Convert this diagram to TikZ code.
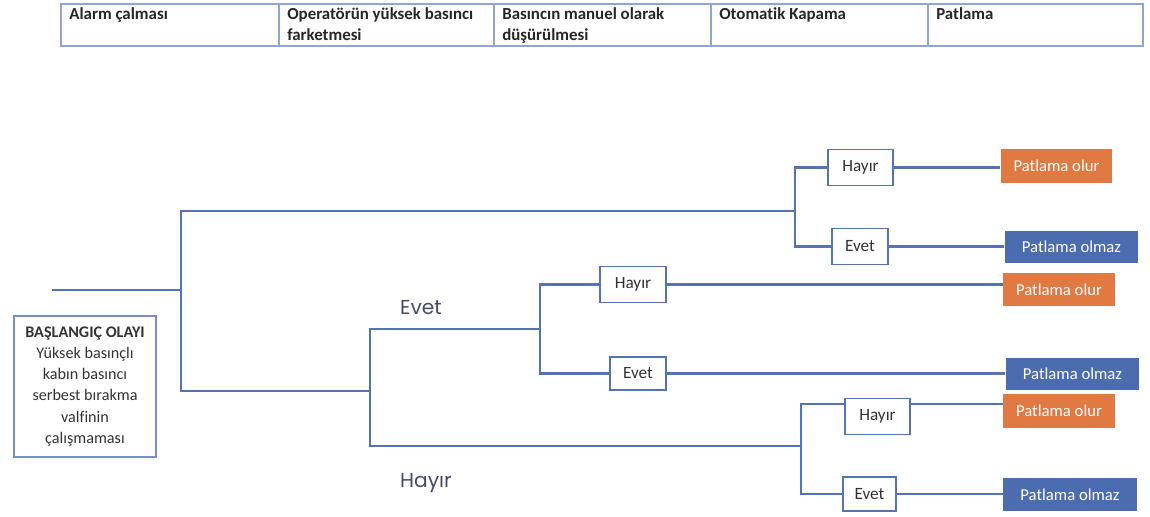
\documentclass[tikz,border=0pt]{standalone}
\usepackage{fontspec}
\setmainfont[Ligatures=NoCommon]{Carlito}
\newfontfamily\etiketfont{Poppins}
\usetikzlibrary{positioning}

\definecolor{hat}{HTML}{5473B5}
\definecolor{cerceve}{HTML}{8FA5D3}
\definecolor{turuncu}{HTML}{E07A42}
\definecolor{mavi}{HTML}{4B6CAF}
\definecolor{yazi}{HTML}{434B6A}

\begin{document}
\begin{tikzpicture}[x=0.02cm, y=-0.02cm,
		dal/.style = {draw = hat, line width = 1.6pt},
		cevap/.style = {draw = hat, line width = 0.9pt, fill = white, minimum height = 0.72cm,
			font = \fontsize{9.8}{11}\selectfont, text = black!80},
		olur/.style = {fill = turuncu, text = white, minimum width = 2.24cm, minimum height = 0.68cm,
			font = \fontsize{9.5}{11}\selectfont},
		olmaz/.style = {fill = mavi, text = white, minimum width = 2.68cm, minimum height = 0.65cm,
			font = \fontsize{9.5}{11}\selectfont},
		hucre/.style = {draw = cerceve, line width = 1.2pt, minimum height = 0.84cm, inner sep = 0pt},
		baslik/.style = {anchor = north west, align = left, inner sep = 0pt,
			font = \bfseries\fontsize{9.6}{12}\selectfont, text = black!85},
		etiket/.style = {anchor = west, text = yazi, font = \etiketfont\fontsize{11.5}{13}\selectfont}
	]
	\useasboundingbox (0,0) rectangle (1150,517);
	
	% tablo basliklari
	\node [hucre, minimum width = 4.36cm] (h1) at (170,25) {};
	\node [hucre, minimum width = 4.30cm] (h2) at (386.5,25) {};
	\node [hucre, minimum width = 4.34cm] (h3) at (602.5,25) {};
	\node [hucre, minimum width = 4.34cm] (h4) at (819.5,25) {};
	\node [hucre, minimum width = 4.30cm] (h5) at (1035.5,25) {};
	
	\node [baslik] (t1) at ([xshift = 0.18cm, yshift = -0.09cm] h1.north west) {Alarm çalması};
	\node [baslik] (t2) at ([xshift = 0.18cm, yshift = -0.09cm] h2.north west) {Operatörün yüksek basıncı\\farketmesi};
	\node [baslik] (t3) at ([xshift = 0.18cm, yshift = -0.09cm] h3.north west) {Basıncın manuel olarak\\düşürülmesi};
	\node [baslik] (t4) at ([xshift = 0.18cm, yshift = -0.09cm] h4.north west) {Otomatik Kapama};
	\node [baslik] (t5) at ([xshift = 0.18cm, yshift = -0.09cm] h5.north west) {Patlama};
	
	% baslangic olayi
	\node [draw = hat!80, line width = 1pt, minimum width = 2.84cm, minimum height = 2.82cm, align = center,
		font = \fontsize{9.2}{12}\selectfont, text = black!80] (bas) at (85,386.5)
		{\textbf{BAŞLANGIÇ OLAYI}\\Yüksek basınçlı\\kabın basıncı\\serbest bırakma\\valfinin\\çalışmaması};
	
	% dallanma noktalari
	\coordinate (a0) at (52,290);
	\coordinate (j1) at (181,290);
	\coordinate (b1) at (795,211);
	\coordinate (b2) at (370,391);
	\coordinate (c1) at (540,329);
	\coordinate (c2) at (801,446);
	\coordinate (c2t) at (801,404);
	
	% cevap kutulari
	\node [cevap, minimum width = 1.30cm] (hA) at (860.5,167.5) {Hayır};
	\node [cevap, minimum width = 1.12cm] (eA) at (860,246.5) {Evet};
	\node [cevap, minimum width = 1.32cm] (hB) at (633,284.5) {Hayır};
	\node [cevap, minimum width = 1.12cm, minimum height = 0.66cm] (eB) at (638,373.5) {Evet};
	\node [cevap, minimum width = 1.30cm] (hC) at (877.5,416.5) {Hayır};
	\node [cevap, minimum width = 1.06cm, minimum height = 0.68cm] (eC) at (869.5,494) {Evet};
	
	% sonuclar
	\node [olur] (oA) at (1056.5,166) {Patlama olur};
	\node [olmaz] (nA) at (1071.5,247) {Patlama olmaz};
	\node [olur] (oB) at (1059,289.5) {Patlama olur};
	\node [olmaz] (nB) at (1072.5,374) {Patlama olmaz};
	\node [olur] (oC) at (1059,411) {Patlama olur};
	\node [olmaz] (nC) at (1070,494.5) {Patlama olmaz};
	
	% agac
	\draw [dal] (a0) -- (j1);
	\draw [dal] (b1) -| (j1) |- (b2);
	\draw [dal] (c1) -| (b2) |- (c2);
	
	\draw [dal] (hA.west) -| (b1) |- (eA.west);
	\draw [dal] (hB.west) -| (c1) |- (eB.west);
	\draw [dal] (c2t -| hC.west) -- (c2t) -- (c2) |- (eC.west);
	
	\draw [dal] (hA.east) -- (hA.east -| oA.west);
	\draw [dal] (eA.east) -- (eA.east -| nA.west);
	\draw [dal] (hB.east) -- (hB.east -| oB.west);
	\draw [dal] (eB.east) -- (eB.east -| nB.west);
	\draw [dal] (c2t -| hC.east) -- (c2t -| oC.west);
	\draw [dal] (eC.east) -- (eC.east -| nC.west);
	
	\node [etiket] (levet) at (394,308) {Evet};
	\node [etiket] (lhayir) at (394,483) {Hayır};
	
\end{tikzpicture}
\end{document}
